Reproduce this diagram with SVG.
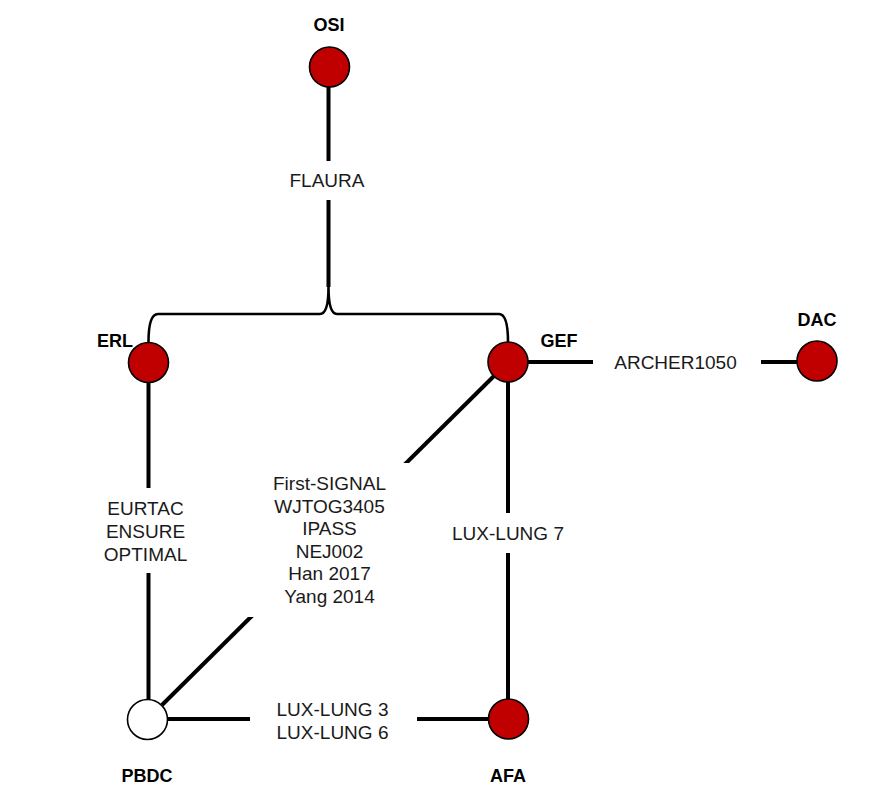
<svg xmlns="http://www.w3.org/2000/svg" width="874" height="810" viewBox="0 0 874 810">
<style>
.edge{stroke:#000;stroke-width:4;fill:none}
.brace{stroke:#000;stroke-width:2.6;fill:none}
.node{stroke:#000;stroke-width:1.6}
.red{fill:#C00000}
.white{fill:#fff}
.name{font-family:"Liberation Sans",Arial,sans-serif;font-weight:bold;font-size:18px;fill:#000;text-anchor:middle}
.lab{font-family:"Liberation Sans",Arial,sans-serif;font-size:19px;fill:#1a1a1a;text-anchor:middle}
.bg{fill:#fff}
</style>
<rect width="874" height="810" fill="#fff"/>
<g id="connectors">
<line class="edge" x1="328.5" y1="87" x2="328.5" y2="287"/>
<path class="brace" d="M148.5,342 Q148.5,314 158,314 L320,314 Q328.5,314 328.5,287 Q328.5,314 337,314 L499,314 Q508,314 508,342"/>
<line class="edge" x1="148.5" y1="382" x2="148.5" y2="700"/>
<line class="edge" x1="508" y1="382" x2="508" y2="700"/>
<line class="edge" x1="528" y1="362" x2="797" y2="362"/>
<line class="edge" x1="168" y1="719" x2="488" y2="719"/>
<line class="edge" x1="162" y1="705" x2="494" y2="376"/>
</g>
<g id="edge-labels">
<rect class="bg" x="280" y="161" width="96" height="39"/>
<text class="lab" x="327" y="187">FLAURA</text>
<rect class="bg" x="593" y="342" width="168" height="40"/>
<text class="lab" x="675.5" y="369">ARCHER1050</text>
<rect class="bg" x="445" y="513" width="126" height="40"/>
<text class="lab" x="508" y="540">LUX-LUNG 7</text>
<rect class="bg" x="98" y="488" width="96" height="85"/>
<text class="lab" x="145.5" y="515">EURTAC</text>
<text class="lab" x="145.5" y="538">ENSURE</text>
<text class="lab" x="145.5" y="561">OPTIMAL</text>
<rect class="bg" x="245" y="463" width="170" height="154"/>
<text class="lab" x="329.5" y="490">First-SIGNAL</text>
<text class="lab" x="329.5" y="513">WJTOG3405</text>
<text class="lab" x="329.5" y="535">IPASS</text>
<text class="lab" x="329.5" y="558">NEJ002</text>
<text class="lab" x="329.5" y="580">Han 2017</text>
<text class="lab" x="329.5" y="603">Yang 2014</text>
<rect class="bg" x="250" y="692" width="167" height="54"/>
<text class="lab" x="332.5" y="716">LUX-LUNG 3</text>
<text class="lab" x="332.5" y="739">LUX-LUNG 6</text>
</g>
<g id="node-OSI">
<circle class="node red" cx="329.5" cy="67" r="20"/>
<text class="name" x="329" y="31">OSI</text>
</g>
<g id="node-ERL">
<circle class="node red" cx="148.5" cy="362.5" r="20"/>
<text class="name" x="115" y="347">ERL</text>
</g>
<g id="node-GEF">
<circle class="node red" cx="508" cy="362" r="20"/>
<text class="name" x="559" y="347">GEF</text>
</g>
<g id="node-DAC">
<circle class="node red" cx="817" cy="361" r="20"/>
<text class="name" x="817" y="326">DAC</text>
</g>
<g id="node-PBDC">
<circle class="node white" cx="147.5" cy="719.5" r="20"/>
<text class="name" x="147" y="782">PBDC</text>
</g>
<g id="node-AFA">
<circle class="node red" cx="508.5" cy="719" r="20"/>
<text class="name" x="508" y="782">AFA</text>
</g>
</svg>
